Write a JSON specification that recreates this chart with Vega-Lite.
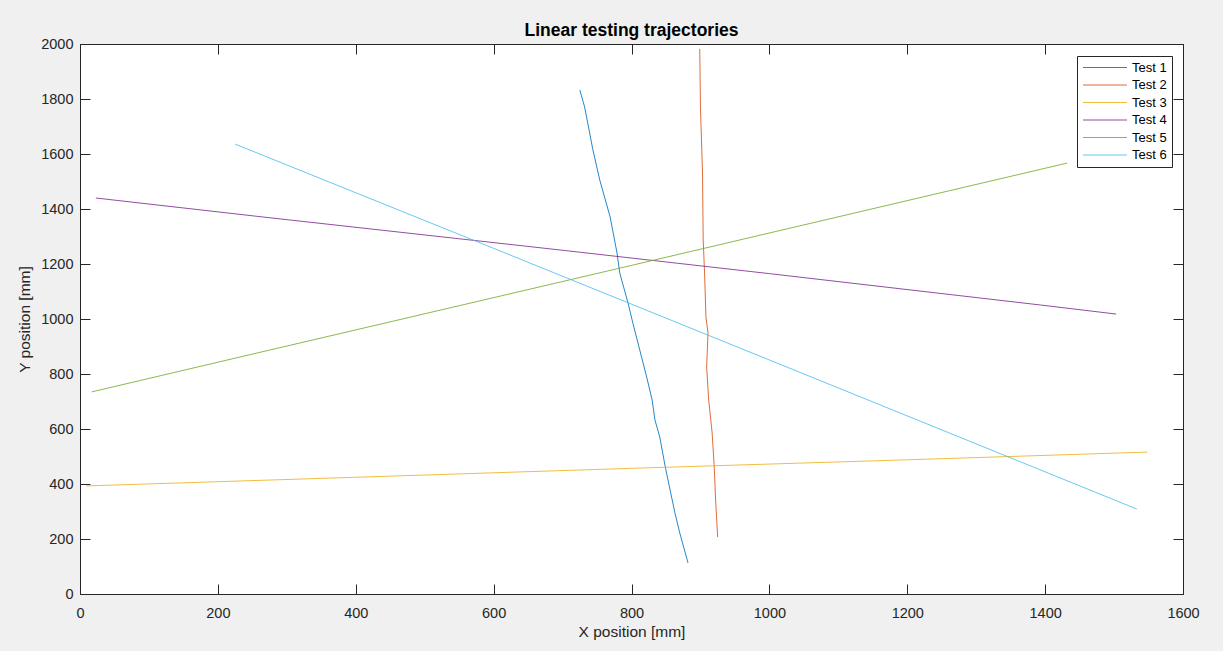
{
  "$schema": "https://vega.github.io/schema/vega-lite/v6.json",
  "width": 1103,
  "height": 550,
  "autosize": {"type": "none"},
  "padding": {"left": 80, "top": 44, "right": 40, "bottom": 57},
  "background": "#F0F0F0",
  "title": {
    "text": "Linear testing trajectories",
    "font": "Liberation Sans",
    "fontSize": 17.5,
    "fontWeight": "bold",
    "color": "#000000",
    "baseline": "alphabetic",
    "offset": 7,
    "dy": 24,
    "anchor": "middle"
  },
  "config": {
    "view": {"fill": "#FFFFFF", "stroke": "#262626", "strokeWidth": 1},
    "axis": {
      "grid": false,
      "domainColor": "#262626",
      "tickColor": "#262626",
      "labelColor": "#262626",
      "titleColor": "#262626",
      "labelFont": "Liberation Sans",
      "titleFont": "Liberation Sans",
      "labelFontSize": 14.5,
      "titleFontSize": 15.5,
      "titleFontWeight": "normal",
      "tickSize": -10,
      "labelFlush": false,
      "labelOverlap": false,
      "format": "d"
    }
  },
  "data": {
    "values": [
      {"series": "Test 1", "i": 0, "x": 725, "y": 1833},
      {"series": "Test 1", "i": 1, "x": 732, "y": 1771},
      {"series": "Test 1", "i": 2, "x": 744, "y": 1615},
      {"series": "Test 1", "i": 3, "x": 754, "y": 1505},
      {"series": "Test 1", "i": 4, "x": 769, "y": 1371},
      {"series": "Test 1", "i": 5, "x": 779, "y": 1240},
      {"series": "Test 1", "i": 6, "x": 783, "y": 1167},
      {"series": "Test 1", "i": 7, "x": 795, "y": 1058},
      {"series": "Test 1", "i": 8, "x": 802, "y": 985},
      {"series": "Test 1", "i": 9, "x": 812, "y": 887},
      {"series": "Test 1", "i": 10, "x": 822, "y": 789},
      {"series": "Test 1", "i": 11, "x": 830, "y": 705},
      {"series": "Test 1", "i": 12, "x": 834, "y": 633},
      {"series": "Test 1", "i": 13, "x": 841, "y": 571},
      {"series": "Test 1", "i": 14, "x": 849, "y": 462},
      {"series": "Test 1", "i": 15, "x": 856, "y": 378},
      {"series": "Test 1", "i": 16, "x": 863, "y": 295},
      {"series": "Test 1", "i": 17, "x": 870, "y": 222},
      {"series": "Test 1", "i": 18, "x": 882, "y": 113},
      {"series": "Test 2", "i": 0, "x": 899, "y": 1982},
      {"series": "Test 2", "i": 1, "x": 900, "y": 1771},
      {"series": "Test 2", "i": 2, "x": 903, "y": 1531},
      {"series": "Test 2", "i": 3, "x": 904, "y": 1287},
      {"series": "Test 2", "i": 4, "x": 906, "y": 1167},
      {"series": "Test 2", "i": 5, "x": 908, "y": 1007},
      {"series": "Test 2", "i": 6, "x": 911, "y": 949},
      {"series": "Test 2", "i": 7, "x": 909, "y": 825},
      {"series": "Test 2", "i": 8, "x": 912, "y": 705},
      {"series": "Test 2", "i": 9, "x": 917, "y": 585},
      {"series": "Test 2", "i": 10, "x": 920, "y": 462},
      {"series": "Test 2", "i": 11, "x": 922, "y": 342},
      {"series": "Test 2", "i": 12, "x": 925, "y": 207},
      {"series": "Test 3", "i": 0, "x": 9, "y": 393},
      {"series": "Test 3", "i": 1, "x": 258, "y": 413},
      {"series": "Test 3", "i": 2, "x": 800, "y": 457},
      {"series": "Test 3", "i": 3, "x": 1200, "y": 488},
      {"series": "Test 3", "i": 4, "x": 1548, "y": 516},
      {"series": "Test 4", "i": 0, "x": 23, "y": 1440},
      {"series": "Test 4", "i": 1, "x": 258, "y": 1373},
      {"series": "Test 4", "i": 2, "x": 700, "y": 1250},
      {"series": "Test 4", "i": 3, "x": 1000, "y": 1165},
      {"series": "Test 4", "i": 4, "x": 1393, "y": 1051},
      {"series": "Test 4", "i": 5, "x": 1503, "y": 1018},
      {"series": "Test 5", "i": 0, "x": 17, "y": 735},
      {"series": "Test 5", "i": 1, "x": 258, "y": 877},
      {"series": "Test 5", "i": 2, "x": 800, "y": 1195},
      {"series": "Test 5", "i": 3, "x": 1432, "y": 1567},
      {"series": "Test 6", "i": 0, "x": 225, "y": 1636},
      {"series": "Test 6", "i": 1, "x": 600, "y": 1257},
      {"series": "Test 6", "i": 2, "x": 1000, "y": 851},
      {"series": "Test 6", "i": 3, "x": 1533, "y": 309}
    ]
  },
  "layer": [
    {
      "mark": {"type": "line", "strokeWidth": 1, "strokeOpacity": 0.85},
      "encoding": {
        "x": {
          "field": "x", "type": "quantitative",
          "scale": {"domain": [0, 1600], "nice": false, "zero": false},
          "axis": {
            "orient": "bottom",
            "title": "X position [mm]",
            "values": [0, 200, 400, 600, 800, 1000, 1200, 1400, 1600],
            "labelPadding": 22,
            "titlePadding": 5
          }
        },
        "y": {
          "field": "y", "type": "quantitative",
          "scale": {"domain": [0, 2000], "nice": false, "zero": false},
          "axis": {
            "orient": "left",
            "title": "Y position [mm]",
            "values": [0, 200, 400, 600, 800, 1000, 1200, 1400, 1600, 1800, 2000],
            "labelPadding": 17,
            "titlePadding": 8
          }
        },
        "order": {"field": "i", "type": "quantitative"},
        "color": {
          "field": "series", "type": "nominal",
          "scale": {
            "domain": ["Test 1", "Test 2", "Test 3", "Test 4", "Test 5", "Test 6"],
            "range": ["#0072BD", "#D95319", "#EDB120", "#7E2F8E", "#77AC30", "#4DBEEE"]
          },
          "legend": {
            "title": null,
            "orient": "none",
            "legendX": 997,
            "legendY": 12,
            "direction": "vertical",
            "fillColor": "#FFFFFF",
            "strokeColor": "#262626",
            "padding": 5,
            "symbolType": "M-1,0H7",
            "symbolSize": 121,
            "symbolStrokeWidth": 1,
            "symbolOpacity": 0.85,
            "labelOffset": 37,
            "labelFont": "Liberation Sans",
            "labelFontSize": 13,
            "labelColor": "#000000",
            "rowPadding": 3.5
          }
        }
      }
    },
    {
      "mark": {"type": "line", "strokeOpacity": 0},
      "encoding": {
        "x": {
          "field": "x", "type": "quantitative",
          "axis": {
            "orient": "top",
            "title": null,
            "labels": false,
            "values": [0, 200, 400, 600, 800, 1000, 1200, 1400, 1600]
          }
        },
        "y": {
          "field": "y", "type": "quantitative",
          "axis": {
            "orient": "right",
            "title": null,
            "labels": false,
            "values": [0, 200, 400, 600, 800, 1000, 1200, 1400, 1600, 1800, 2000]
          }
        },
        "detail": {"field": "series"},
        "order": {"field": "i", "type": "quantitative"}
      }
    }
  ],
  "resolve": {"axis": {"x": "independent", "y": "independent"}}
}
